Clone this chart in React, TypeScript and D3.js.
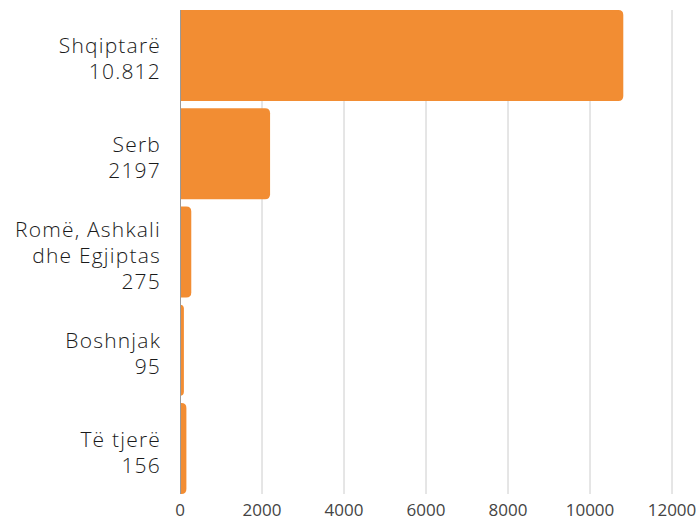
import React, { useRef, useEffect } from "react";
import * as d3 from "d3";

const categories = ["Shqiptarë", "Serb", "Romë, Ashkali dhe Egjiptas", "Boshnjak", "Të tjerë"];
const labelLines = [["Shqiptarë", "10.812"], ["Serb", "2197"], ["Romë, Ashkali", "dhe Egjiptas", "275"], ["Boshnjak", "95"], ["Të tjerë", "156"]];
const values = [10812, 2197, 275, 95, 156];
const xTicks = [0, 2000, 4000, 6000, 8000, 10000, 12000];

const W = 699;
const H = 521;

const App = () => {
  const svgRef = useRef<SVGSVGElement>(null);

  useEffect(() => {
    const svg = d3.select(svgRef.current);
    svg.selectAll("*").remove();

    const margin = { top: 10, right: 27, bottom: 27, left: 180 };
    const innerW = W - margin.left - margin.right;
    const innerH = H - margin.top - margin.bottom;

    const g = svg.append("g").attr("transform", `translate(${margin.left},${margin.top})`);

    const x = d3.scaleLinear().domain([0, 12000]).range([0, innerW]);
    const y = d3.scaleBand<string>().domain(categories).range([0, innerH]).paddingInner(0.074).paddingOuter(0);

    // gridlines
    g.selectAll("line.grid")
      .data(xTicks.slice(1))
      .join("line")
      .attr("class", "grid")
      .attr("x1", d => x(d))
      .attr("x2", d => x(d))
      .attr("y1", 0)
      .attr("y2", innerH)
      .attr("stroke", "#cccccc")
      .attr("stroke-width", 1);

    // bars: rounded right end, flat left end
    const r = 5;
    g.selectAll("path.bar")
      .data(categories)
      .join("path")
      .attr("class", "bar")
      .attr("fill", "#f28d33")
      .attr("d", (c, i) => {
        const y0 = y(c)!;
        const h = y.bandwidth();
        const w = x(values[i]);
        const rr = Math.min(r, w);
        return `M0,${y0}H${w - rr}Q${w},${y0} ${w},${y0 + rr}V${y0 + h - rr}Q${w},${y0 + h} ${w - rr},${y0 + h}H0Z`;
      });

    // axis line
    g.append("line")
      .attr("x1", 0.5)
      .attr("x2", 0.5)
      .attr("y1", 0)
      .attr("y2", innerH)
      .attr("stroke", "#999999")
      .attr("stroke-width", 1);

    // tick labels
    g.selectAll("text.tick")
      .data(xTicks)
      .join("text")
      .attr("class", "tick")
      .attr("x", d => x(d))
      .attr("y", innerH + 22)
      .attr("text-anchor", "middle")
      .style("font-family", "'Open Sans', sans-serif")
      .style("font-size", "17px")
      .style("fill", "#444444")
      .text(d => String(d));

    // category labels
    const lineH = 26;
    categories.forEach((c, i) => {
      const lines = labelLines[i];
      const cy = y(c)! + y.bandwidth() / 2 + 3;
      const startY = cy - ((lines.length - 1) * lineH) / 2;
      const t = g.append("text")
        .attr("text-anchor", "end")
        .style("font-family", "'Open Sans', sans-serif")
        .style("font-weight", "300")
        .style("letter-spacing", "1.2px")
        .style("font-size", "21px")
        .style("fill", "#1a1a1a");
      lines.forEach((ln, j) => {
        t.append("tspan")
          .attr("x", -19)
          .attr("y", startY + j * lineH)
          .attr("dominant-baseline", "central")
          .text(ln);
      });
    });
  }, []);

  return (
    <svg ref={svgRef} width={W} height={H} style={{ position: "absolute", left: 0, top: 0, background: "#fff" }} />
  );
};

export default App;
